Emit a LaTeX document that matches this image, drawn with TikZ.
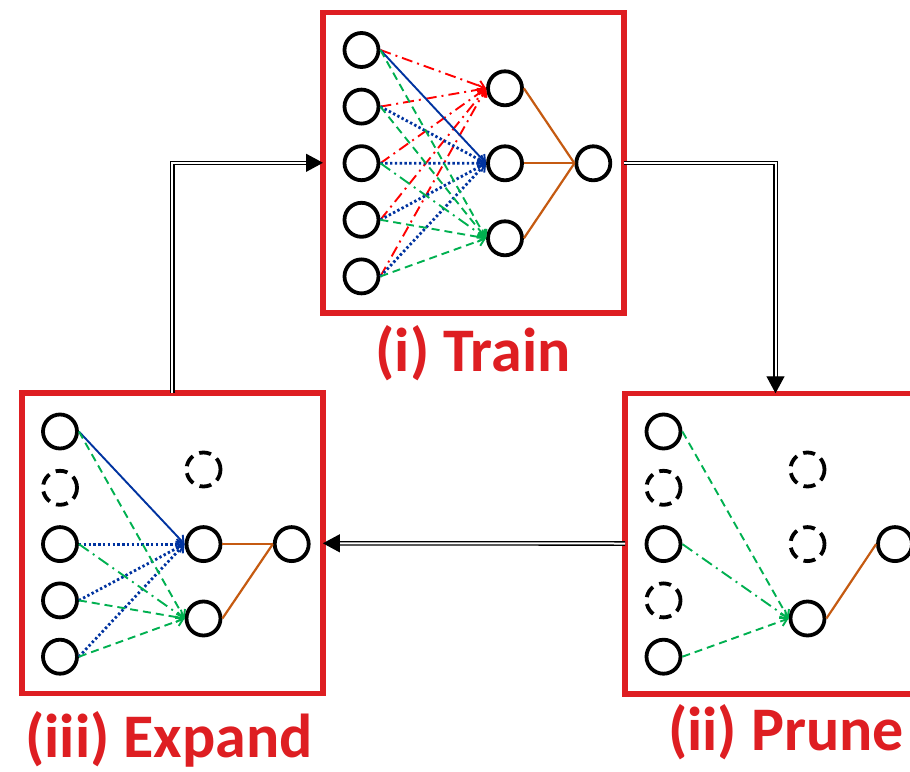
\documentclass[tikz,border=0pt]{standalone}
\usepackage{fontspec}
\setmainfont{Carlito}
\usetikzlibrary{arrows.meta}
\definecolor{boxred}{RGB}{222,30,34}
\definecolor{ered}{RGB}{255,0,0}
\definecolor{eblue}{RGB}{0,51,160}
\definecolor{egreen}{RGB}{0,176,80}
\definecolor{eorange}{RGB}{197,90,17}
\tikzset{
  neuron/.style={circle, draw=black, line width=3.8pt, minimum size=34pt, inner sep=0pt},
  ghost/.style={neuron, dash pattern=on 12pt off 7pt},
  stagebox/.style={draw=boxred, line width=5.5pt, minimum width=301pt, minimum height=300.5pt, outer sep=0pt},
  tipped/.style={-{Straight Barb[length=6.5pt,width=10pt,line width=1.9pt]}},
  redline/.style={tipped, draw=ered, line width=1.9pt, dash pattern=on 11pt off 5pt on 2pt off 5pt},
  bluesolid/.style={tipped, draw=eblue, line width=1.9pt},
  bluedot/.style={tipped, draw=eblue, line width=2.8pt, dash pattern=on 2.4pt off 2.4pt},
  greendash/.style={tipped, draw=egreen, line width=1.9pt, dash pattern=on 8pt off 5pt},
  greendashdot/.style={tipped, draw=egreen, line width=1.9pt, dash pattern=on 12pt off 5pt on 2pt off 5pt},
  outline/.style={draw=eorange, line width=2.2pt},
  bigarrow/.style={draw=black, line width=1.3pt, double=white, double distance=2pt, -{Triangle[length=17pt,width=18pt]}},
  stagelabel/.style={text=boxred, font=\fontsize{62}{70}\selectfont\bfseries, anchor=base, inner sep=0pt}
}
\begin{document}
\begin{tikzpicture}[x=1pt, y=-1pt]
\useasboundingbox (0,0) rectangle (910,771);

% ---------- boxes ----------
\node[stagebox] (train) at (473.5,162.8) {};
\node[stagebox] (expand) at (172.4,543.3) {};
\node[stagebox] (prune) at (775.5,543.5) {};

% ---------- Train ----------
\node[neuron] (t1) at (361.5,50) {};
\node[neuron] (t2) at (361.5,106.6) {};
\node[neuron] (t3) at (361.5,163.2) {};
\node[neuron] (t4) at (361.5,219.8) {};
\node[neuron] (t5) at (361.5,276.4) {};
\node[neuron] (th1) at (505,88.3) {};
\node[neuron] (th2) at (505,163.3) {};
\node[neuron] (th3) at (505,238.3) {};
\node[neuron] (to) at (593.3,163.3) {};

\foreach \i in {1,...,5} {\draw[redline] (t\i.east) -- (th1.west);}
\draw[bluesolid] (t1.east) -- (th2.west);
\foreach \i in {2,...,5} {\draw[bluedot] (t\i.east) -- (th2.west);}
\foreach \i in {1,2,4,5} {\draw[greendash] (t\i.east) -- (th3.west);}
\draw[greendashdot] (t3.east) -- (th3.west);
\foreach \i in {1,2,3} {\draw[outline] (th\i.east) -- (to.west);}

% ---------- Expand ----------
\node[neuron] (e1) at (60,431.5) {};
\node[ghost]  (e2) at (60,487.8) {};
\node[neuron] (e3) at (60,544.1) {};
\node[neuron] (e4) at (60,600.4) {};
\node[neuron] (e5) at (60,656.7) {};
\node[ghost]  (eh1) at (203.5,469.5) {};
\node[neuron] (eh2) at (203.5,544.1) {};
\node[neuron] (eh3) at (203.5,618.5) {};
\node[neuron] (eo) at (291.7,544.1) {};

\draw[bluesolid] (e1.east) -- (eh2.west);
\foreach \i in {3,4,5} {\draw[bluedot] (e\i.east) -- (eh2.west);}
\foreach \i in {1,4,5} {\draw[greendash] (e\i.east) -- (eh3.west);}
\draw[greendashdot] (e3.east) -- (eh3.west);
\draw[outline] (eh2.east) -- (eo.west);
\draw[outline] (eh3.east) -- (eo.west);

% ---------- Prune ----------
\node[neuron] (p1) at (663.5,431.5) {};
\node[ghost]  (p2) at (663.5,487.8) {};
\node[neuron] (p3) at (663.5,544.1) {};
\node[ghost]  (p4) at (663.5,600.4) {};
\node[neuron] (p5) at (663.5,656.7) {};
\node[ghost]  (ph1) at (807.5,469.5) {};
\node[ghost]  (ph2) at (807.5,544.1) {};
\node[neuron] (ph3) at (807.5,618.5) {};
\node[neuron] (po) at (895,544.1) {};

\draw[greendash] (p1.east) -- (ph3.west);
\draw[greendashdot] (p3.east) -- (ph3.west);
\draw[greendash] (p5.east) -- (ph3.west);
\draw[outline] (ph3.east) -- (po.west);

% ---------- cycle arrows ----------
\draw[bigarrow] (expand.north) |- (train.west);
\draw[bigarrow] (train.east) -| (prune.north);
\draw[bigarrow] (prune.west) -- (expand.east);

% ---------- labels ----------
\node[stagelabel] (ltrain) at (473,371.7) {(i) Train};
\node[stagelabel] (lexpand) at (169,757) {(iii) Expand};
\node[stagelabel] (lprune) at (786,750) {(ii) Prune};
\end{tikzpicture}
\end{document}
